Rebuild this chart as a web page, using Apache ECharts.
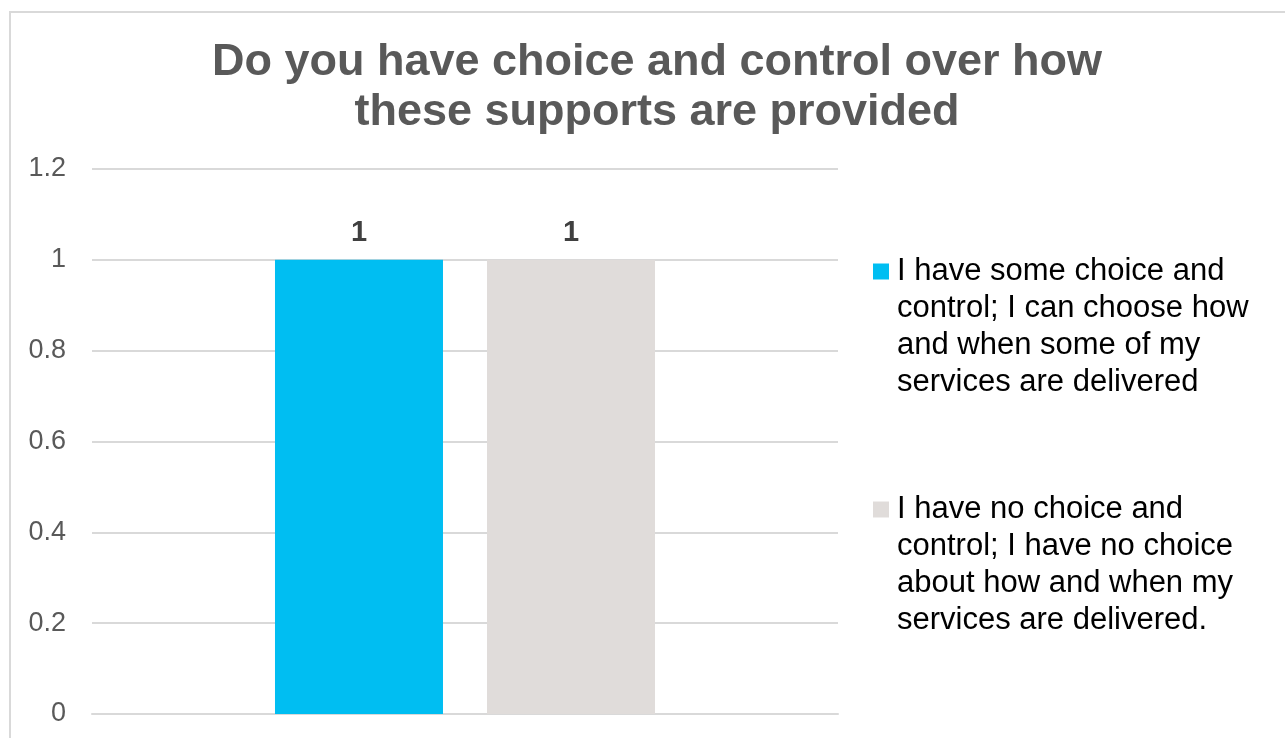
<!DOCTYPE html>
<html>
<head>
<meta charset="utf-8">
<script src="https://cdn.jsdelivr.net/npm/echarts@6/dist/echarts.min.js"></script>
<style>
html,body{margin:0;padding:0;background:#fff;}
#chart{width:1285px;height:738px;}
</style>
</head>
<body>
<div id="chart"></div>
<script>
const titleText = 'Do you have choice and control over how\nthese supports are provided';
const categories = [''];
const seriesNames = [
  'I have some choice and\ncontrol; I can choose how\nand when some of my\nservices are delivered',
  'I have no choice and\ncontrol; I have no choice\nabout how and when my\nservices are delivered.'
];
const seriesValues = [[1], [1]];
const seriesColors = ['#00BEF2', '#E0DCDA'];
const yMin = 0, yMax = 1.2, yInterval = 0.2;

const chart = echarts.init(document.getElementById('chart'));
const FONT = 'Liberation Sans, Arial, sans-serif';

const series = seriesNames.map((name, i) => ({
  name: name,
  type: 'bar',
  data: seriesValues[i],
  barWidth: 168,
  barGap: '26.2%',
  itemStyle: { color: seriesColors[i] },
  label: {
    show: true, position: 'top', distance: 12,
    fontFamily: FONT, fontSize: 29, fontWeight: 'bold', color: '#404040'
  }
}));

const legends = seriesNames.map((name, i) => ({
  data: [name],
  left: 868,
  top: [137, 375][i],
  orient: 'vertical',
  icon: 'rect',
  itemWidth: 16,
  itemHeight: 16,
  selectedMode: false,
  formatter: n => '\n\n\n' + n,
  textStyle: { fontFamily: FONT, fontSize: 31, color: '#000', lineHeight: 37, padding: [0,0,0,3] }
}));

chart.setOption({
  animation: false,
  backgroundColor: '#fff',
  title: {
    text: titleText,
    left: 652, top: 33,
    textAlign: 'center',
    textStyle: { fontFamily: FONT, fontSize: 45, fontWeight: 'bold', color: '#595959', lineHeight: 50 }
  },
  legend: legends,
  grid: { left: 92, right: 1285 - 838, top: 169, bottom: 738 - 714, containLabel: false },
  xAxis: {
    type: 'category', data: categories,
    axisLine: { show: true, lineStyle: { color: '#D9D9D9', width: 2 } },
    axisTick: { show: false }, axisLabel: { show: false }
  },
  yAxis: {
    type: 'value', min: yMin, max: yMax, interval: yInterval,
    axisLine: { show: false }, axisTick: { show: false },
    axisLabel: { fontFamily: FONT, fontSize: 27, color: '#595959', margin: 26,
      formatter: v => String(Math.round(v * 10) / 10) },
    splitLine: { lineStyle: { color: '#D9D9D9', width: 2 } }
  },
  graphic: [{
    type: 'rect', silent: true, z: -1,
    shape: { x: 10, y: 12, width: 1400, height: 900 },
    style: { fill: 'none', stroke: '#D9D9D9', lineWidth: 2 }
  }],
  series: series
});
</script>
</body>
</html>
